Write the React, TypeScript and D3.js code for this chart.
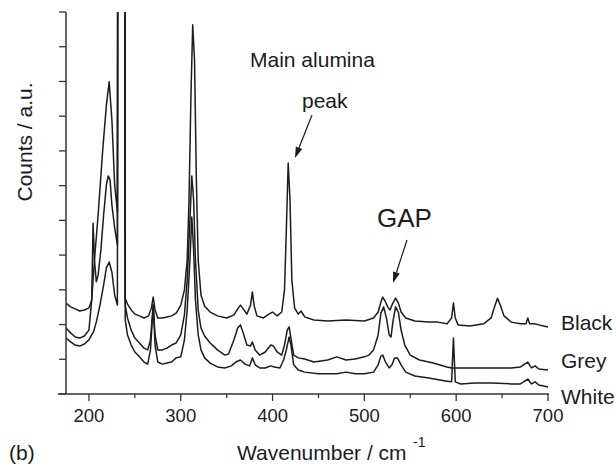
import React from "react";
import * as d3 from "d3";

// Raman spectra (wavenumber cm^-1, counts a.u. with vertical offsets as plotted)
const blackData: [number, number][] = [
  [175, 262], [180, 251], [185, 245], [190, 239], [195, 242], [200, 248], [203, 271], [206, 386],
  [210, 516], [215, 703], [219, 832], [222, 899], [225, 789], [228, 602], [231, 524], [232, 3000],
  [238.5, 3000], [239.5, 276], [242, 259], [246, 242], [250, 230], [255, 225], [260, 219], [265, 225],
  [268, 248], [270, 279], [272, 242], [275, 219], [280, 219], [285, 222], [290, 225], [295, 233],
  [300, 256], [304, 300], [307, 386], [309, 559], [311, 847], [313, 1063], [315, 962], [317, 616],
  [319, 386], [322, 285], [326, 253], [332, 236], [340, 225], [350, 219], [358, 228], [362, 245],
  [365, 256], [368, 245], [372, 230], [376, 256], [378, 294], [380, 253], [383, 225], [390, 219],
  [396, 230], [400, 236], [405, 225], [410, 236], [413, 300], [415, 472], [417, 665], [419, 559],
  [421, 328], [424, 248], [428, 230], [431, 239], [435, 222], [445, 213], [460, 210], [480, 213],
  [500, 210], [510, 219], [515, 236], [518, 265], [520, 279], [523, 265], [526, 248], [528, 242],
  [531, 262], [534, 276], [537, 262], [540, 236], [545, 219], [555, 210], [570, 207], [580, 207],
  [590, 202], [595, 219], [597, 262], [599, 219], [602, 199], [615, 196], [630, 202], [638, 219],
  [642, 253], [645, 276], [648, 256], [652, 225], [660, 207], [670, 202], [676, 202], [678, 219],
  [680, 202], [685, 202], [690, 199], [695, 196], [700, 193],
];

const greyData: [number, number][] = [
  [175, 190], [180, 176], [185, 164], [190, 161], [195, 167], [200, 184], [203, 271], [204.5, 492],
  [206, 386], [208, 323], [210, 343], [213, 415], [216, 516], [219, 602], [221, 628], [223, 616],
  [225, 544], [228, 478], [231, 429], [232, 3000], [238.5, 3000], [239.5, 256], [242, 219], [246, 184],
  [250, 161], [255, 147], [260, 132], [264, 127], [267, 156], [270, 256], [272, 170], [275, 127],
  [280, 127], [285, 132], [290, 141], [295, 147], [300, 170], [304, 228], [307, 328], [310, 501],
  [312, 628], [314, 559], [316, 386], [319, 242], [322, 190], [326, 167], [332, 147], [340, 127],
  [348, 112], [352, 115], [358, 156], [362, 190], [365, 199], [368, 176], [372, 141], [376, 138],
  [378, 150], [381, 127], [386, 112], [392, 121], [398, 141], [401, 138], [405, 121], [410, 112],
  [413, 141], [416, 184], [418, 193], [420, 161], [423, 112], [428, 104], [435, 101], [445, 92],
  [460, 98], [470, 107], [480, 98], [490, 101], [500, 107], [505, 112], [510, 127], [515, 170],
  [518, 233], [521, 251], [524, 219], [527, 170], [529, 164], [531, 207], [534, 251], [537, 236],
  [540, 184], [544, 141], [550, 112], [560, 98], [575, 89], [590, 78], [595, 75], [600, 75],
  [620, 75], [640, 75], [660, 75], [670, 78], [678, 92], [682, 75], [686, 81], [690, 72], [700, 69],
];

const whiteData: [number, number][] = [
  [175, 161], [180, 150], [185, 141], [190, 138], [195, 144], [200, 156], [203, 170], [205, 179],
  [208, 207], [212, 256], [216, 314], [219, 363], [222, 380], [225, 351], [228, 285], [231, 256],
  [232, 3000], [238.5, 3000], [239.5, 213], [242, 170], [246, 141], [250, 121], [255, 107], [260, 92],
  [264, 86], [267, 127], [270, 256], [272, 141], [275, 92], [280, 86], [285, 89], [290, 92],
  [295, 104], [300, 107], [304, 156], [307, 242], [310, 386], [312, 510], [314, 415], [316, 271],
  [319, 170], [322, 127], [326, 104], [332, 89], [340, 78], [348, 75], [355, 81], [360, 92],
  [365, 98], [370, 86], [375, 81], [378, 104], [381, 84], [386, 75], [392, 75], [398, 81],
  [402, 78], [408, 75], [412, 98], [415, 127], [418, 164], [420, 141], [423, 84], [428, 69],
  [435, 63], [450, 58], [470, 58], [480, 63], [490, 58], [500, 58], [510, 63], [515, 84],
  [518, 109], [520, 112], [523, 92], [527, 75], [530, 84], [533, 104], [536, 104], [540, 84],
  [545, 63], [555, 52], [570, 46], [590, 37], [595, 35], [597, 161], [599, 35], [605, 29],
  [620, 32], [640, 32], [660, 29], [670, 29], [678, 43], [682, 29], [686, 35], [690, 26], [700, 20],
];

const seriesNames = ["Black", "Grey", "White"];
const seriesData = [blackData, greyData, whiteData];
const xTicksMajor = [200, 300, 400, 500, 600, 700];
const xTicksMinor = [250, 350, 450, 550, 650];
const yTicks = [0, 100, 200, 300, 400, 500, 600, 700, 800, 900, 1000, 1100];

const W = 616;
const H = 474;
const FONT = "'Liberation Sans', Arial, Helvetica, sans-serif";
const INK = "#1c1c1c";

export default function App() {
  const x = d3.scaleLinear().domain([175, 700]).range([66, 548]);
  const y = d3.scaleLinear().domain([0, 1100]).range([394, 12]);
  const line = d3
    .line<[number, number]>()
    .x((d) => x(d[0]))
    .y((d) => y(d[1]));

  const labelY = [330, 368, 404];

  const arrow = (x1: number, y1: number, x2: number, y2: number) => {
    const ang = Math.atan2(y2 - y1, x2 - x1);
    const L = 11;
    const w = 3.5;
    const bx = x2 - L * Math.cos(ang);
    const by = y2 - L * Math.sin(ang);
    const px = -Math.sin(ang) * w;
    const py = Math.cos(ang) * w;
    return (
      <g>
        <line x1={x1} y1={y1} x2={bx} y2={by} stroke={INK} strokeWidth={1.2} />
        <polygon points={`${x2},${y2} ${bx + px},${by + py} ${bx - px},${by - py}`} fill={INK} />
      </g>
    );
  };

  return (
    <svg
      width={W}
      height={H}
      style={{ position: "absolute", left: 0, top: 0, background: "#fff" }}
      fontFamily={FONT}
    >
      <defs>
        <clipPath id="plotClip">
          <rect x={66} y={12} width={483} height={382} />
        </clipPath>
      </defs>

      {/* traces */}
      <g clipPath="url(#plotClip)">
        {seriesData.map((d, i) => (
          <path key={seriesNames[i]} d={line(d) || ""} fill="none" stroke={INK} strokeWidth={1.5} strokeLinejoin="round" />
        ))}
      </g>

      {/* axes */}
      <line x1={66} y1={12} x2={66} y2={394} stroke="#333" strokeWidth={1.5} />
      <line x1={58} y1={394} x2={549} y2={394} stroke="#333" strokeWidth={1.5} />
      {yTicks.map((t) => (
        <line key={"y" + t} x1={59} x2={66} y1={y(t)} y2={y(t)} stroke="#333" strokeWidth={1.3} />
      ))}
      {xTicksMajor.map((t) => (
        <line key={"xM" + t} x1={x(t)} x2={x(t)} y1={394} y2={401} stroke="#333" strokeWidth={1.3} />
      ))}
      {xTicksMinor.map((t) => (
        <line key={"xm" + t} x1={x(t)} x2={x(t)} y1={394} y2={398} stroke="#333" strokeWidth={1.3} />
      ))}
      {xTicksMajor.map((t) => (
        <text key={"xl" + t} x={x(t)} y={422} textAnchor="middle" fontSize={18.5} fill={INK}>
          {t}
        </text>
      ))}

      {/* series labels */}
      {seriesNames.map((n, i) => (
        <text key={"lab" + n} x={561} y={labelY[i]} fontSize={21} fill={INK}>
          {n}
        </text>
      ))}

      {/* axis titles */}
      <text transform="translate(32,142) rotate(-90)" textAnchor="middle" fontSize={21} fill={INK}>
        Counts / a.u.
      </text>
      <text x={237} y={460} fontSize={21} fill={INK}>
        Wavenumber / cm
      </text>
      <text x={413} y={447} fontSize={14} fill={INK}>
        -1
      </text>
      <text x={9} y={460} fontSize={21} fill={INK}>
        (b)
      </text>

      {/* annotations */}
      <text x={250} y={67} fontSize={21} fill={INK}>
        Main alumina
      </text>
      <text x={302} y={108} fontSize={21} fill={INK}>
        peak
      </text>
      {arrow(312, 115, 295, 158)}
      <text x={377} y={227} fontSize={26} fill={INK}>
        GAP
      </text>
      {arrow(407, 240, 393, 283)}
    </svg>
  );
}
